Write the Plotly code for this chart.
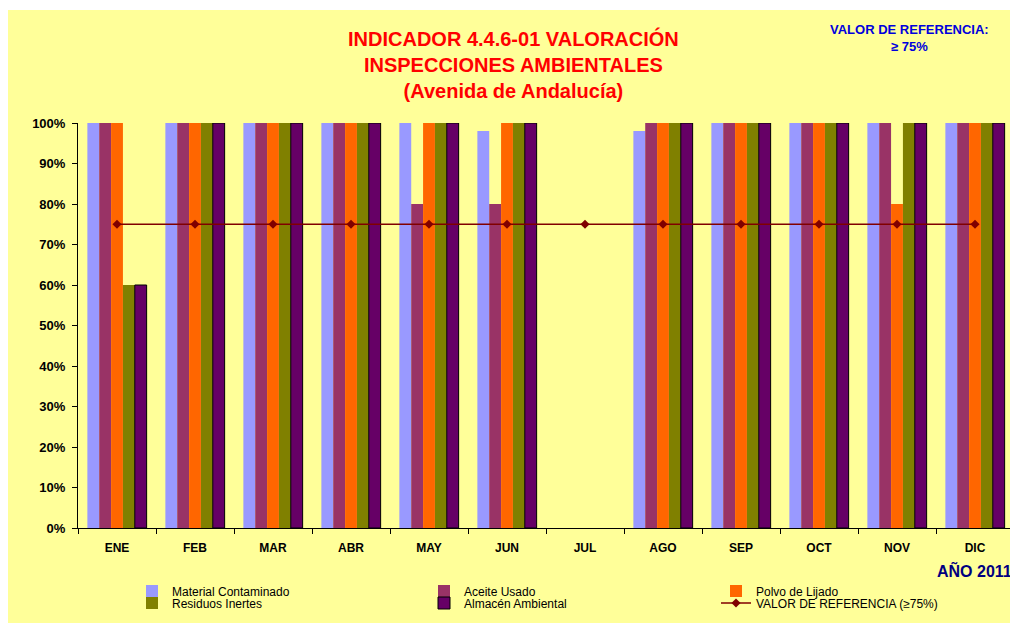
import plotly.graph_objects as go

months = ["ENE", "FEB", "MAR", "ABR", "MAY", "JUN", "JUL", "AGO", "SEP", "OCT", "NOV", "DIC"]
material_contaminado = [1.00, 1.00, 1.00, 1.00, 1.00, 0.98, None, 0.98, 1.00, 1.00, 1.00, 1.00]
aceite_usado = [1.00, 1.00, 1.00, 1.00, 0.80, 0.80, None, 1.00, 1.00, 1.00, 1.00, 1.00]
polvo_lijado = [1.00, 1.00, 1.00, 1.00, 1.00, 1.00, None, 1.00, 1.00, 1.00, 0.80, 1.00]
residuos_inertes = [0.60, 1.00, 1.00, 1.00, 1.00, 1.00, None, 1.00, 1.00, 1.00, 1.00, 1.00]
almacen_ambiental = [0.60, 1.00, 1.00, 1.00, 1.00, 1.00, None, 1.00, 1.00, 1.00, 1.00, 1.00]
valor_referencia = [0.75] * 12
y_ticks = [0, 0.1, 0.2, 0.3, 0.4, 0.5, 0.6, 0.7, 0.8, 0.9, 1.0]

FONT = "Liberation Sans, Arial, sans-serif"
YELLOW = "#FFFF99"

# The page shows the figure offset by the browser's 8px body margin.
OFF = 8
W, H = 1010, 617
L, R, T, B = 70, 4, 115, 97
PW, PH = W - L - R, H - T - B


def px(x_page):
    return (x_page - OFF - L) / PW


def py(y_page):
    return (H - B - (y_page - OFF)) / PH


fig = go.Figure()

bar_series = [
    ("Material Contaminado", material_contaminado, "#9999FF", "legend", 0),
    ("Aceite Usado", aceite_usado, "#993366", "legend", 0),
    ("Polvo de Lijado", polvo_lijado, "#FF6600", "legend", 0),
    ("Residuos Inertes", residuos_inertes, "#808000", "legend2", 0),
    ("Almacén Ambiental", almacen_ambiental, "#660066", "legend2", 1),
]
for name, vals, color, leg, lw in bar_series:
    fig.add_trace(go.Bar(
        x=months, y=vals, name=name, legend=leg,
        marker=dict(color=color, line=dict(color="#000000", width=lw)),
    ))

fig.add_trace(go.Scatter(
    x=months, y=valor_referencia, name="VALOR DE REFERENCIA (≥75%)",
    legend="legend2", mode="lines+markers",
    line=dict(color="#800000", width=1.5),
    marker=dict(symbol="diamond", size=7, color="#800000"),
))

legend_common = dict(
    orientation="h", xanchor="left", yanchor="middle",
    font=dict(family=FONT, size=12, color="#000000"),
    bgcolor="rgba(0,0,0,0)", borderwidth=0,
    entrywidth=247, entrywidthmode="pixels",
    itemclick=False, itemdoubleclick=False,
)

fig.update_layout(
    width=W, height=H,
    margin=dict(l=L, r=R, t=T, b=B, pad=0),
    paper_bgcolor="#FFFFFF",
    plot_bgcolor="rgba(0,0,0,0)",
    barmode="group", bargap=0.24, bargroupgap=0,
    font=dict(family=FONT, size=12, color="#000000"),
    showlegend=True,
    legend=dict(x=px(132), y=py(591), **legend_common),
    legend2=dict(x=px(132), y=py(603), **legend_common),
    xaxis=dict(
        type="category", showgrid=False, showline=True, linecolor="#000000", linewidth=1,
        ticks="outside", ticklen=5, tickcolor="#000000", tickson="boundaries",
        tickfont=dict(family=FONT, size=12, color="#000000", weight="bold"),
        ticklabelstandoff=9, range=[-0.5, 11.5], zeroline=False,
    ),
    yaxis=dict(
        range=[0, 1], tickvals=y_ticks, tickformat=".0%", showgrid=False,
        showline=True, linecolor="#000000", linewidth=1, zeroline=False,
        ticks="outside", ticklen=5, tickcolor="#000000", ticklabelstandoff=4,
        tickfont=dict(family=FONT, size=13, color="#000000", weight="bold"),
    ),
    shapes=[dict(
        type="rect", xref="paper", yref="paper", layer="below",
        x0=px(0), x1=px(1040), y0=py(623), y1=py(10),
        fillcolor=YELLOW, line=dict(width=0),
    )],
    annotations=[
        dict(xref="paper", yref="paper", x=px(513), y=py(65), xanchor="center", yanchor="middle",
             text="INDICADOR 4.4.6-01 VALORACIÓN<br>INSPECCIONES AMBIENTALES<br>(Avenida de Andalucía)",
             showarrow=False, align="center",
             font=dict(family=FONT, size=20, color="#FF0000", weight="bold")),
        dict(xref="paper", yref="paper", x=px(909), y=py(37.5), xanchor="center", yanchor="middle",
             text="VALOR DE REFERENCIA:<br>≥ 75%", showarrow=False, align="center",
             font=dict(family=FONT, size=13, color="#0000DD", weight="bold")),
        dict(xref="paper", yref="paper", x=px(974), y=py(570), xanchor="center", yanchor="middle",
             text="AÑO 2011", showarrow=False,
             font=dict(family=FONT, size=16, color="#000080", weight="bold")),
    ],
)

fig.write_html("out.html")
